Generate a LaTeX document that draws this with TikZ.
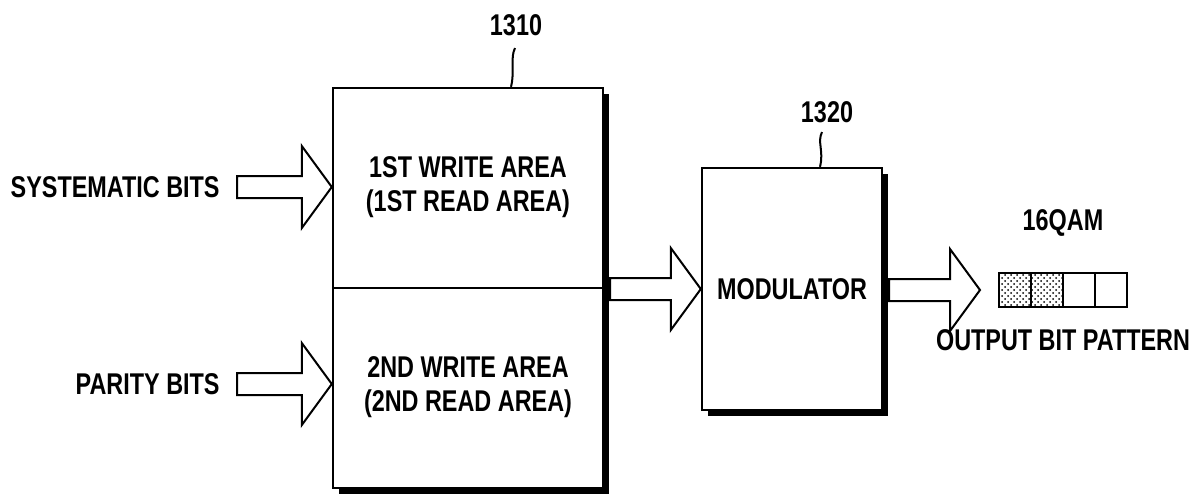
\documentclass[tikz,border=0pt]{standalone}
\usepackage{fontspec}
\setmainfont[FakeStretch=0.78]{Liberation Sans}
\usetikzlibrary{positioning,calc,shadows,patterns}

% hollow block arrow: tail x from #1, tip at #2
\newcommand{\fatarrow}[2]{%
  \draw[fatarrowline] let \p1=(#1), \p2=(#2) in
    (\x1,\y2+5.5pt) -- (\x2-15pt,\y2+5.5pt) -- (\x2-15pt,\y2+20.5pt) -- (\x2,\y2)
    -- (\x2-15pt,\y2-20.5pt) -- (\x2-15pt,\y2-5.5pt) -- (\x1,\y2-5.5pt) -- cycle;}

\begin{document}
\begin{tikzpicture}[x=0.5pt, y=-0.5pt,
    block/.style={rectangle, draw=black, line width=1.2pt, fill=white, inner sep=0pt,
        drop shadow={shadow xshift=3pt, shadow yshift=-3pt, fill=black, opacity=1}},
    lbl/.style={font=\fontsize{15}{17}\selectfont\bfseries, inner sep=1pt, align=center},
    fatarrowline/.style={draw=black, line width=1pt, fill=white, line join=miter},
    bitcell/.style={rectangle, draw=black, line width=1pt, minimum width=16pt,
        minimum height=17pt, inner sep=0pt, outer sep=0pt},
    leader/.style={draw=black, line width=1pt},
]
    \useasboundingbox (0,0) rectangle (1202,500);

    % interleaver memory 1310
    \node [block, minimum width=135pt, minimum height=200pt] (buffer) at (468,288) {};
    \draw [line width=1.2pt] (buffer.west) -- (buffer.east);
    \node [lbl] (area1) at (468,187) {1ST WRITE AREA\\(1ST READ AREA)};
    \node [lbl] (area2) at (468,387) {2ND WRITE AREA\\(2ND READ AREA)};

    % modulator 1320
    \node [block, lbl, minimum width=90pt, minimum height=121pt] (mod) at (792,289) {MODULATOR};

    % inputs
    \node [lbl, anchor=east] (sysbits)    at (222,187) {SYSTEMATIC BITS};
    \node [lbl, anchor=east] (paritybits) at (222,384) {PARITY BITS};
    \coordinate (systail)    at ($(sysbits.east)+(15,0)$);
    \coordinate (paritytail) at ($(paritybits.east)+(15,0)$);
    \fatarrow{systail}{buffer.west |- sysbits.east}
    \fatarrow{paritytail}{buffer.west |- paritybits.east}

    % memory -> modulator
    \coordinate (midtail) at ($(buffer.east)+(6,0)$);
    \fatarrow{midtail}{mod.west}

    % output bit pattern
    \node [bitcell, pattern=crosshatch dots] (pat1) at (1015,290) {};
    \node [bitcell, pattern=crosshatch dots, right=0pt of pat1] (pat2) {};
    \node [bitcell, right=0pt of pat2] (pat3) {};
    \node [bitcell, right=0pt of pat3] (pat4) {};
    \coordinate (outtail) at ($(mod.east)+(6,0)$);
    \coordinate (outtip)  at ($(pat1.west)+(-19,0)$);
    \fatarrow{outtail}{outtip}
    \node [lbl, above=17pt of pat2.north east] (qam)    {16QAM};
    \node [lbl, below=10pt of pat2.south east] (outlbl) {OUTPUT BIT PATTERN};

    % reference numerals
    \node [lbl] (num1310) at (516,25)  {1310};
    \node [lbl] (num1320) at (827,112) {1320};
    \coordinate (lead1310) at ($(buffer.north)+(43,0)$);
    \coordinate (lead1320) at ($(mod.north)+(28,0)$);
    \draw [leader] (lead1310) .. controls +(4,-16) and +(-5,10) .. ($(num1310.south)+(-1,10)$);
    \draw [leader] (lead1320) .. controls +(4,-16) and +(-5,10) .. ($(num1320.south)+(-5,7)$);

\end{tikzpicture}
\end{document}
